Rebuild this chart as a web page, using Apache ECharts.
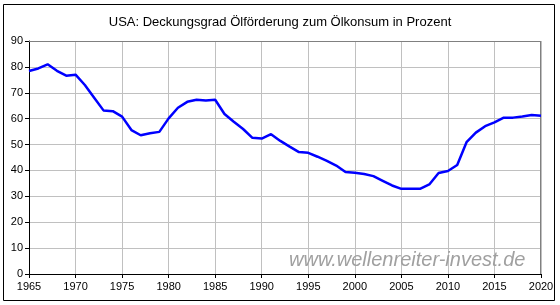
<!DOCTYPE html>
<html>
<head>
<meta charset="utf-8">
<script src="https://cdn.jsdelivr.net/npm/echarts@6/dist/echarts.min.js"></script>
<style>html,body{margin:0;padding:0;background:#fff;}#c{width:560px;height:305px;}</style>
</head>
<body>
<div id="c"></div>
<script>
const titleText = 'USA: Deckungsgrad Ölförderung zum Ölkonsum in Prozent';
const watermark = 'www.wellenreiter-invest.de';
const years = [];
for (let y = 1965; y <= 2020; y++) years.push(y);
const coverage = [
  78.4, 79.4, 81.0, 78.5, 76.6, 77.0, 73.0, 68.1, 63.2, 62.9,
  60.8, 55.6, 53.6, 54.4, 54.9, 60.1, 64.2, 66.5, 67.3, 67.0,
  67.3, 61.8, 58.8, 56.0, 52.6, 52.3, 54.0, 51.4, 49.2, 47.1,
  46.8, 45.3, 43.7, 41.9, 39.4, 39.1, 38.6, 37.8, 36.0, 34.2,
  32.9, 32.9, 32.9, 34.6, 39.0, 39.8, 42.1, 50.9, 54.6, 57.1,
  58.6, 60.4, 60.4, 60.8, 61.4, 61.1
];
const yTicks = [0, 10, 20, 30, 40, 50, 60, 70, 80, 90];
const xTicks = [1965, 1970, 1975, 1980, 1985, 1990, 1995, 2000, 2005, 2010, 2015, 2020];

const chart = echarts.init(document.getElementById('c'), null, {renderer: 'canvas'});
const font = 'Arial, "Liberation Sans", sans-serif';
chart.setOption({
  animation: false,
  backgroundColor: '#fff',
  title: {
    text: titleText, left: 'center', top: 11,
    textStyle: {fontFamily: font, fontSize: 13, fontWeight: 'normal', color: '#000'}
  },
  grid: {left: 29, right: 19, top: 41, bottom: 31, containLabel: false},
  xAxis: {
    type: 'value', min: xTicks[0], max: xTicks[xTicks.length - 1], interval: 5,
    axisLine: {show: true, lineStyle: {color: '#000', width: 1}},
    axisTick: {show: true, length: 4, lineStyle: {color: '#000'}},
    axisLabel: {fontFamily: font, fontSize: 11, color: '#000', margin: 7, formatter: v => String(v)},
    splitLine: {show: true, lineStyle: {color: '#C0C0C0', width: 1}}
  },
  yAxis: {
    type: 'value', min: yTicks[0], max: yTicks[yTicks.length - 1], interval: 10,
    axisLine: {show: true, lineStyle: {color: '#000', width: 1}},
    axisTick: {show: true, length: 4, lineStyle: {color: '#000'}},
    axisLabel: {fontFamily: font, fontSize: 11, color: '#000', margin: 6},
    splitLine: {show: true, lineStyle: {color: '#C0C0C0', width: 1}}
  },
  graphic: [
    {type: 'rect', shape: {x: 3.5, y: 4.5, width: 551, height: 296}, style: {fill: 'none', stroke: '#000', lineWidth: 1}, z: 0},
    {type: 'line', shape: {x1: 29, y1: 41.5, x2: 541, y2: 41.5}, style: {stroke: '#808080', lineWidth: 1}, z: 1},
    {type: 'line', shape: {x1: 540.5, y1: 41, x2: 540.5, y2: 274}, style: {stroke: '#808080', lineWidth: 1}, z: 1},
    {type: 'text', x: 289, y: 250, z: 1,
      style: {text: watermark, fontFamily: font, fontStyle: 'italic', fontSize: 20, fill: '#A0A0A0', verticalAlign: 'top', align: 'left'}}
  ],
  series: [{
    type: 'line', showSymbol: false, symbol: 'none',
    data: years.map((y, i) => [y, coverage[i]]),
    lineStyle: {color: '#0000FF', width: 2.5},
    z: 5
  }]
});
</script>
</body>
</html>
